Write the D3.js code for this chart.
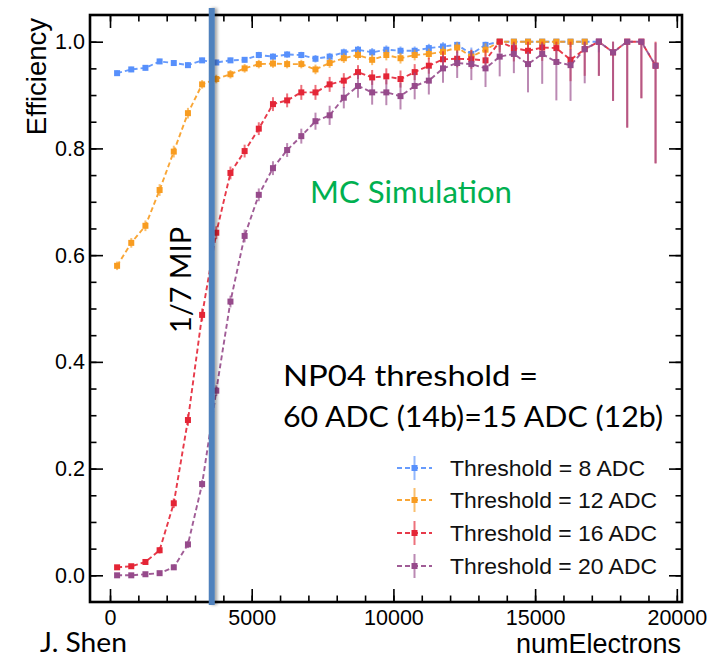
<!DOCTYPE html>
<html><head><meta charset="utf-8">
<script src="https://cdn.jsdelivr.net/npm/d3@7"></script>
<style>body{margin:0;background:#fff} svg{display:block}</style>
</head><body>
<svg id="c" width="717" height="658"></svg>
<script>
// ---------- data ----------
const binCenters = [250,750,1250,1750,2250,2750,3250,3750,4250,4750,5250,5750,6250,6750,7250,7750,8250,8750,9250,9750,10250,10750,11250,11750,12250,12750,13250,13750,14250,14750,15250,15750,16250,16750,17250,17750,18250,18750,19250];

const seriesNames = ["Threshold = 8 ADC","Threshold = 12 ADC","Threshold = 16 ADC","Threshold = 20 ADC"];
const seriesColors = ["#5790fc","#f89c20","#e42536","#964a8b"];

const eff8 = [0.941,0.948,0.951,0.963,0.960,0.956,0.965,0.961,0.965,0.966,0.975,0.972,0.976,0.975,0.968,0.972,0.980,0.985,0.980,0.985,0.983,0.983,0.988,0.991,0.994,0.977,0.994,1.0,1.0,1.0,1.0,1.0,1.0,1.0,1.0,null,null,null,null];
const err8 = [0.005,0.005,0.005,0.005,0.005,0.005,0.005,0.005,0.005,0.005,0.006,0.006,0.006,0.006,0.007,0.007,0.007,0.007,0.008,0.008,0.008,0.008,0.008,0.008,0.008,0.012,0.008,0.01,0.01,0.01,0.01,0.01,0.01,0.01,0.02,null,null,null,null];

const eff12 = [0.580,0.623,0.655,0.722,0.794,0.866,0.920,0.930,0.939,0.950,0.958,0.959,0.958,0.958,0.948,0.960,0.969,0.975,0.966,0.975,0.969,0.975,0.977,0.981,0.989,0.972,0.985,1.0,1.0,1.0,1.0,1.0,1.0,1.0,null,null,null,null,null];
const err12 = [0.008,0.009,0.01,0.011,0.011,0.01,0.008,0.008,0.008,0.008,0.008,0.008,0.008,0.008,0.009,0.009,0.009,0.009,0.01,0.01,0.01,0.01,0.01,0.01,0.01,0.012,0.012,0.015,0.015,0.015,0.015,0.015,0.015,0.015,null,null,null,null,null];

const eff16 = [0.015,0.017,0.025,0.047,0.135,0.291,0.488,0.642,0.754,0.795,0.837,0.883,0.890,0.905,0.905,0.920,0.927,0.943,0.933,0.935,0.930,0.943,0.955,0.967,0.968,0.967,0.965,1.0,0.988,0.983,0.989,0.988,0.966,0.986,1.0,0.980,1.0,1.0,0.955];
const err16 = [0.003,0.003,0.004,0.006,0.009,0.011,0.012,0.012,0.012,0.012,0.012,0.013,0.013,0.014,0.014,0.014,0.014,0.013,0.014,0.015,0.016,0.015,0.015,0.015,0.016,0.018,0.02,0.02,0.025,0.028,0.025,0.03,0.04,0.05,0.064,0.091,0.161,0.106,0.183];

const eff20 = [0.000,0.000,0.002,0.004,0.015,0.058,0.171,0.346,0.513,0.636,0.713,0.763,0.797,0.823,0.851,0.862,0.895,0.917,0.905,0.905,0.898,0.917,0.927,0.950,0.960,0.958,0.950,0.972,0.977,0.958,0.977,0.962,0.956,0.986,1.0,0.980,1.0,1.0,0.955];
const err20Lo = [0.001,0.001,0.002,0.003,0.005,0.007,0.008,0.01,0.011,0.012,0.012,0.013,0.013,0.014,0.016,0.018,0.02,0.022,0.023,0.024,0.025,0.025,0.026,0.027,0.028,0.03,0.035,0.037,0.036,0.053,0.056,0.072,0.067,0.064,0.064,0.091,0.161,0.106,0.183];
const err20Hi = [0.001,0.001,0.002,0.003,0.005,0.007,0.008,0.01,0.011,0.012,0.012,0.013,0.013,0.014,0.016,0.018,0.02,0.022,0.023,0.024,0.025,0.025,0.024,0.024,0.022,0.022,0.022,0.022,0.02,0.023,0.02,0.023,0.03,0.014,0,0.02,0,0,0.043];

const xMajorTicks = [0,5000,10000,15000,20000];
const yMajorTicks = [0.0,0.2,0.4,0.6,0.8,1.0];
const xMinorStep = 1000, yMinorStep = 0.05;
const mipLineX = 3590;

const annotations = {
  yTitle: "Efficiency", xTitle: "numElectrons", author: "J. Shen",
  mc: "MC Simulation", np1: "NP04 threshold =", np2: "60 ADC (14b)=15 ADC (12b)", mip: "1/7 MIP"
};

// ---------- chart ----------
const svg = d3.select("#c");
const F = {l:90, r:682, t:15, b:602};
const x = d3.scaleLinear().domain([-706, 20183]).range([F.l, F.r]);
const y = d3.scaleLinear().domain([-0.05, 1.05]).range([F.b, F.t]);
const helv = "'Liberation Sans', Arial, Helvetica, sans-serif";
const cal = "Lato, 'Open Sans', sans-serif";

const defs = svg.append("defs");
const sh = defs.append("filter").attr("id","shadow").attr("x","-100%").attr("width","300%");
sh.append("feDropShadow").attr("dx",2.5).attr("dy",0).attr("stdDeviation",1.5)
  .attr("flood-color","#000").attr("flood-opacity",0.35);

const xMinor = d3.range(0, 20000 + 1, xMinorStep);
const yMinor = d3.range(0, 20 + 1).map(k => +(k*yMinorStep).toFixed(2));

function styleAxis(g, noLabels){
  g.select(".domain").remove();
  g.selectAll(".tick line").attr("stroke","#000").attr("stroke-width",1.6);
  g.selectAll("text").attr("font-family",helv).attr("font-size",21.5).attr("fill","#000");
  if (noLabels) g.selectAll("text").remove();
}
// bottom
svg.append("g").attr("transform",`translate(0,${F.b})`)
  .call(d3.axisBottom(x).tickValues(xMinor).tickSize(-6.5).tickFormat(""))
  .call(g=>styleAxis(g,true));
svg.append("g").attr("transform",`translate(0,${F.b})`)
  .call(d3.axisBottom(x).tickValues(xMajorTicks).tickSize(-13).tickPadding(8).tickFormat(d3.format("d")))
  .call(g=>styleAxis(g,false));
// top
svg.append("g").attr("transform",`translate(0,${F.t})`)
  .call(d3.axisTop(x).tickValues(xMinor).tickSize(-6.5).tickFormat(""))
  .call(g=>styleAxis(g,true));
svg.append("g").attr("transform",`translate(0,${F.t})`)
  .call(d3.axisTop(x).tickValues(xMajorTicks).tickSize(-13).tickFormat(""))
  .call(g=>styleAxis(g,true));
// left
svg.append("g").attr("transform",`translate(${F.l},0)`)
  .call(d3.axisLeft(y).tickValues(yMinor).tickSize(-6.5).tickFormat(""))
  .call(g=>styleAxis(g,true));
svg.append("g").attr("transform",`translate(${F.l},0)`)
  .call(d3.axisLeft(y).tickValues(yMajorTicks).tickSize(-13).tickPadding(5).tickFormat(d3.format(".1f")))
  .call(g=>styleAxis(g,false));
// right
svg.append("g").attr("transform",`translate(${F.r},0)`)
  .call(d3.axisRight(y).tickValues(yMinor).tickSize(-6.5).tickFormat(""))
  .call(g=>styleAxis(g,true));
svg.append("g").attr("transform",`translate(${F.r},0)`)
  .call(d3.axisRight(y).tickValues(yMajorTicks).tickSize(-13).tickFormat(""))
  .call(g=>styleAxis(g,true));

// frame
svg.append("rect").attr("x",F.l).attr("y",F.t).attr("width",F.r-F.l).attr("height",F.b-F.t)
  .attr("fill","none").attr("stroke","#000").attr("stroke-width",2.6);

// series
const seriesData = [
  {eff:eff8, lo:err8, hi:null},
  {eff:eff12, lo:err12, hi:null},
  {eff:eff16, lo:err16, hi:null},
  {eff:eff20, lo:err20Lo, hi:err20Hi}
];
const line = d3.line().x(d=>x(d.x)).y(d=>y(d.v));
seriesData.forEach((s, si) => {
  const col = seriesColors[si];
  const pts = binCenters.map((xv,i)=>({x:xv, v:s.eff[i],
      lo:s.lo[i], hi: s.hi ? s.hi[i] : Math.min(s.lo[i] ?? 0, 1 - (s.eff[i] ?? 0))}))
    .filter(d=>d.v!=null);
  const g = svg.append("g");
  g.selectAll("line.err").data(pts).join("line").attr("class","err")
    .attr("x1",d=>x(d.x)).attr("x2",d=>x(d.x))
    .attr("y1",d=>y(d.v - d.lo)).attr("y2",d=>y(d.v + d.hi))
    .attr("stroke",col).attr("stroke-width",2).attr("stroke-opacity",0.65);
  g.append("path").datum(pts).attr("d",line).attr("fill","none")
    .attr("stroke",col).attr("stroke-width",1.9).attr("stroke-dasharray","5,3").attr("stroke-opacity",0.9);
  g.selectAll("rect.mk").data(pts).join("rect").attr("class","mk")
    .attr("x",d=>x(d.x)-3).attr("y",d=>y(d.v)-3).attr("width",6).attr("height",6)
    .attr("fill",col);
});

// MIP line
svg.append("rect").attr("x",x(mipLineX)-3).attr("y",8).attr("width",6).attr("height",597)
  .attr("fill","#4f81bd").attr("filter","url(#shadow)");

// legend
const legY = [468,500,533,566];
const legLen = [195,207,207,207];
const leg = svg.append("g");
seriesNames.forEach((nm,i)=>{
  const cy = legY[i], col = seriesColors[i];
  leg.append("line").attr("x1",397).attr("x2",432).attr("y1",cy).attr("y2",cy)
    .attr("stroke",col).attr("stroke-width",1.9).attr("stroke-dasharray","5,3").attr("stroke-opacity",0.9);
  leg.append("line").attr("x1",414.5).attr("x2",414.5).attr("y1",cy-12).attr("y2",cy+12)
    .attr("stroke",col).attr("stroke-width",2).attr("stroke-opacity",0.65);
  leg.append("rect").attr("x",411.5).attr("y",cy-3).attr("width",6).attr("height",6).attr("fill",col);
  leg.append("text").attr("x",450).attr("y",cy+8.3).attr("font-family",helv).attr("font-size",22.5)
    .attr("textLength",legLen[i]).attr("lengthAdjust","spacingAndGlyphs")
    .attr("fill","#111").text(nm);
});

// titles
svg.append("text").attr("transform","translate(46,18) rotate(-90)").attr("text-anchor","end")
  .attr("font-family",helv).attr("font-size",27.5).attr("fill","#000").text(annotations.yTitle);
svg.append("text").attr("x",681).attr("y",653).attr("text-anchor","end")
  .attr("font-family",helv).attr("font-size",27).attr("fill","#000").text(annotations.xTitle);

// annotations
svg.append("text").attr("x",40).attr("y",652).attr("font-family",cal).attr("font-size",26)
  .attr("textLength",87).attr("lengthAdjust","spacingAndGlyphs")
  .attr("fill","#000").text(annotations.author);
svg.append("text").attr("x",310).attr("y",203).attr("font-family",cal).attr("font-size",30)
  .attr("fill","#00b050").attr("textLength",202).attr("lengthAdjust","spacingAndGlyphs").text(annotations.mc);
svg.append("text").attr("x",283).attr("y",386).attr("font-family",cal).attr("font-size",29)
  .attr("fill","#000").attr("textLength",255).attr("lengthAdjust","spacingAndGlyphs").text(annotations.np1);
svg.append("text").attr("x",283).attr("y",427).attr("font-family",cal).attr("font-size",29)
  .attr("fill","#000").attr("textLength",380).attr("lengthAdjust","spacingAndGlyphs").text(annotations.np2);
svg.append("text").attr("transform","translate(191,280) rotate(-90)").attr("text-anchor","middle")
  .attr("font-family",cal).attr("font-size",28).attr("fill","#000")
  .attr("textLength",106).attr("lengthAdjust","spacingAndGlyphs").text(annotations.mip);
</script>
</body></html>
